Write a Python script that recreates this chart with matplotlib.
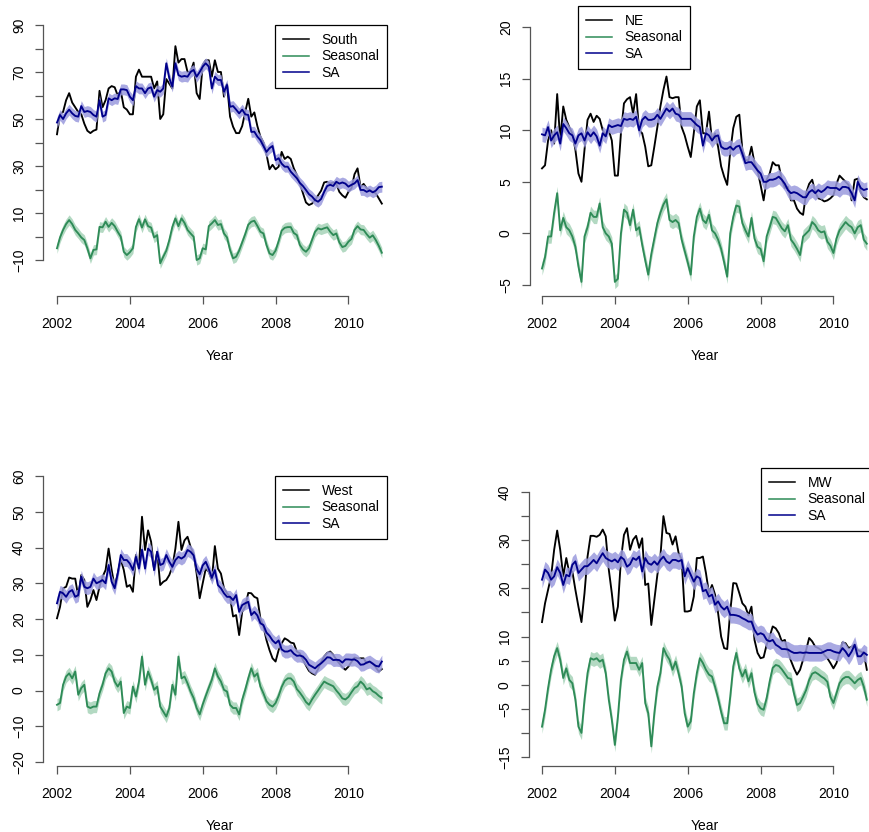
import numpy as np
import matplotlib
matplotlib.use("Agg")
import matplotlib.pyplot as plt

plt.rcParams['font.family'] = ['Liberation Sans', 'DejaVu Sans']

# ---------------- data (monthly, Jan 2002 - Dec 2010) ----------------
start_year = 2002

south_raw = [43.5, 52, 53, 58, 61, 57, 55, 53, 52, 48, 45, 44,
             45, 45.5, 62, 55, 58, 63, 64, 63.5, 60, 62, 55, 54,
             52, 52, 68, 71, 68, 68, 68, 68, 63, 66, 50, 52,
             67, 65, 63, 81, 74, 75.5, 75.5, 70, 70, 74, 61, 58.5,
             73, 75, 75, 68, 75, 70, 70, 59.5, 65, 51, 46.7, 44,
             44, 47, 53, 58.6, 51, 52.8, 47, 42.5, 40, 35, 28.6, 30.5,
             28.6, 29.7, 36, 33, 34, 33, 29, 26.2, 22.5, 18.5, 14.5, 13.4,
             14, 15.5, 17.5, 19.5, 23, 23.3, 22.5, 23, 22.5, 19, 17.5, 16.5,
             19, 20.5, 26.5, 29, 21, 22.4, 20.5, 19.8, 19, 18.4, 16.2, 14]
south_sa = [48.5, 51.7, 50, 52.4, 54, 52.4, 51.3, 51, 55.5, 53, 53.4, 53,
            51.7, 51, 58, 51, 51.7, 58.8, 58, 58.8, 58.5, 62.6, 62.6, 62.3,
            59.5, 58, 64, 63, 63, 61, 63, 63.5, 59.5, 62.3, 61.6, 63,
            73.7, 67.3, 63.8, 73.7, 68.7, 68, 68.3, 68, 70, 70.9, 68, 70,
            72.3, 73.7, 72.3, 63, 68, 66.6, 66.6, 61.6, 64.5, 55.2, 55.5, 54,
            52.4, 54, 52, 51.7, 44.5, 44.6, 42.5, 41, 38.5, 36, 37.6, 38.5,
            32.5, 33.3, 31, 29.7, 29.7, 27.6, 26.2, 24.8, 22.8, 21.5, 19.8, 18,
            17, 15.5, 14.8, 16, 19, 21.5, 22, 21.5, 23.3, 22.5, 23, 22.5,
            21.2, 22, 22.6, 24, 19.8, 19.8, 19, 19.6, 18.8, 19.5, 21, 21.2]
south_seas = [-5, -0.4, 2.8, 5.3, 7, 5.3, 2.8, 1.3, -0.4, -1.5, -5, -9.3,
              -5.7, -5.5, 4.1, 3.9, 6.3, 4.1, 5.8, 4.4, 2, -0.1, -6.5, -7.9,
              -6.7, -5, 4.1, 7.4, 3.8, 7.3, 4.4, 3.8, -0.4, 0.6, -11.4, -8.6,
              -6, -1.5, 4.1, 7.7, 4.4, 7.7, 5.8, 2.8, 1.3, -0.1, -10, -9.3,
              -5, -5.5, 4.4, 5.6, 7, 4.9, 5.3, 1.3, -0.4, -5.7, -9.3, -8.6,
              -6, -2.5, 1, 5, 6.3, 6.7, 4.5, 2, 1.3, -3.6, -7.2, -7.9,
              -6, -2, 2.5, 3.7, 4, 4, 1.5, 0.6, -3.6, -5.5, -6.5, -5,
              -1.5, 2, 3.5, 3, 3.5, 3.9, 2, 0.6, 1.3, -2.5, -4.5, -4,
              -2.2, -1, 2.8, 4.4, 3, 2.8, 1, -0.5, 0.5, -1.5, -4, -6.9]

ne_raw = [6.3, 6.6, 9, 10, 8.7, 13.5, 9, 12.3, 11, 10.3, 9.7, 8.1,
          5.8, 5, 8.1, 11, 11.6, 10.8, 11.4, 11.1, 10, 9.5, 10, 9,
          5.6, 5.6, 9.7, 12.6, 13, 13.2, 11.6, 13.5, 10, 9.7, 8.4, 6.5,
          6.6, 8.4, 10.3, 12.3, 13.9, 15.2, 13.2, 13.1, 13.2, 13.2, 10.3, 9.5,
          8.4, 7.4, 9.7, 12.3, 12.9, 9.7, 9.7, 11.8, 9, 9.7, 8.4, 6.5,
          5.5, 4.7, 7.9, 10.2, 11.3, 11.5, 8.1, 7.1, 7.1, 8.4, 6.8, 6.1,
          4.7, 3.2, 5.2, 5.8, 6.9, 6.6, 6.6, 5.2, 4.4, 4.5, 3.2, 3.2,
          2.4, 2, 1.8, 3.9, 4.8, 5.2, 4, 3.4, 3.3, 3.1, 3.2, 3.4,
          3.7, 4.8, 5.6, 5.3, 5, 4.7, 3.2, 5.2, 5.3, 4, 3.5, 3.3]
ne_sa = [9.6, 9.5, 10.3, 9, 9.5, 9.8, 8.7, 10.6, 10.2, 9.7, 9.5, 8.7,
         9.5, 9.7, 9, 9.8, 9.4, 9.8, 9.4, 8.5, 9.7, 9.4, 10.5, 10.3,
         10.4, 10.5, 10.4, 11.1, 11, 11.1, 11, 11.3, 10, 11, 11.3, 11,
         11, 11.1, 11.5, 11.1, 11.6, 12.1, 11.8, 12.1, 11.6, 11.5, 11.1, 11.1,
         11.1, 11.1, 10.8, 10.5, 10.3, 8.5, 9.7, 9.5, 9, 9.4, 9.5, 8.4,
         8.2, 8.2, 8.4, 8.1, 8.4, 8.5, 7.7, 6.8, 6.9, 6.9, 6.5, 6.1,
         5.8, 5, 5, 5.2, 5.2, 5.3, 5.5, 5.2, 4.8, 4.2, 3.9, 4,
         3.9, 3.7, 3.5, 3.5, 4, 4.2, 3.9, 4.2, 4, 4.2, 4.5, 4.4,
         4.4, 4.4, 4.2, 4.5, 4.5, 4.4, 3.9, 3.2, 5, 4.4, 4.2, 4.3]
ne_seas = [-3.4, -2.3, -0.3, -0.3, 2, 3.9, 0.3, 1.5, 0.6, 0.3, -0.3, -1.3,
           -3.2, -4.7, -0.3, 0.6, 2, 1.6, 1.6, 2.9, 0.6, 0, -0.3, -1,
           -4.7, -4.4, 0, 2.3, 2, 0.8, 2.3, 0.3, 0.6, -1.1, -2.6, -4,
           -2, -0.5, 1, 2, 2.8, 3.3, 1.3, 1.1, 1.3, 1, -0.6, -1.7,
           -2.8, -4, -0.3, 1.6, 2.4, 1.3, 1, 1.8, 0.3, 0, -0.6, -1.5,
           -2.8, -4.2, 0, 1.6, 2.7, 2.6, 1, 0.3, -0.3, 1.5, -0.5, -1.3,
           -1.5, -2.7, -0.3, 0.6, 1.6, 1.5, 1, 0.5, 0.2, 0.8, -0.6, -1,
           -1.5, -2.1, -0.3, 0, 0.3, 1.1, 0.8, 0.3, 0.1, 0.2, -0.8, -1.2,
           -1.9, -0.5, 0.3, 0.7, 1.1, 0.8, 0.6, 0, 0.6, 0.8, -0.6, -1]

west_raw = [20.2, 23.4, 28.6, 29, 31.6, 31.3, 31.3, 26.2, 32.3, 30.9, 23.4, 25.3,
            28.1, 25.3, 29, 31.8, 33.7, 39.7, 33.7, 29, 32.7, 36.7, 33.7, 29,
            29.5, 27.6, 37.9, 34.6, 48.6, 39.3, 44.8, 41.6, 33.7, 38.8, 29.5, 30.4,
            30.9, 32.3, 34.6, 39.7, 47.2, 39.3, 42, 43, 40.2, 38.3, 32.7, 25.8,
            30, 34.1, 33.2, 30.9, 40.4, 34.1, 32.7, 28.6, 27.2, 26.2, 20.7, 21.1,
            15.5, 22, 23.4, 27.3, 27.2, 26.2, 25.8, 20.2, 17.9, 14.1, 11.3, 9,
            8.1, 11.3, 13.2, 14.6, 14.1, 13.4, 13.2, 10.9, 10.4, 8.6, 7, 5.5,
            4.8, 4.4, 6, 8, 9.5, 10.5, 10.9, 10, 8.6, 7.6, 6.5, 5.8,
            6.7, 8, 9.2, 9, 9, 9, 7.6, 8.1, 7.6, 6.5, 5.3, 6]
west_sa = [24.4, 27.6, 27.2, 26.2, 27.6, 28.1, 26.2, 26.7, 31.8, 29, 28.6, 29,
           31.3, 30, 30.4, 30.9, 30, 35.1, 30.4, 28.6, 32.7, 37.9, 36.5, 36.5,
           35.5, 33.7, 37.4, 34.1, 39.4, 34.1, 39.7, 38.8, 33.7, 38.8, 35.1, 35.5,
           37.9, 36, 34.6, 36.5, 37.4, 36.9, 37.5, 39.3, 38.8, 37.8, 34, 32.5,
           35, 36, 34, 31.5, 33.7, 29.5, 28.6, 27.2, 26.2, 26.2, 25.3, 26.7,
           22, 23.9, 24.4, 24.8, 21.1, 22, 21, 18.8, 18.3, 16.2, 15.3, 14,
           13.2, 14, 11.5, 10.9, 10.9, 11.3, 10.3, 9.7, 9.8, 9.5, 8.6, 7.2,
           6.7, 6.2, 7, 7.6, 8.4, 9.3, 9.2, 8.5, 8.6, 8.5, 7.8, 8.7,
           8.7, 8.6, 8.7, 8.2, 7.2, 7.3, 7.8, 8.1, 7.5, 6.9, 6.7, 8.1]
west_seas = [-4, -3.5, 1.6, 3.9, 4.8, 3.4, 5.3, -1.2, 0.7, 1.6, -4.5, -4.9,
             -4.5, -4.5, -0.8, 1.6, 4.8, 6.2, 5.3, 2.5, 1.1, 2.5, -6.3, -4.5,
             -4.9, 1.1, -1.7, 2.5, 9.5, 1.6, 5.3, 3, 0.2, 1.1, -4.5, -5.9,
             -7.3, -4.9, 1.6, -1.2, 9.5, 3.4, 3.9, 2, -0.3, -2.1, -4.9, -6.7,
             -3.9, -1.5, 0.8, 3, 6.2, 3.9, 2.5, 0.2, -0.3, -4, -4.9, -4.9,
             -6.7, -2.6, 0.2, 3.4, 6.2, 3.9, 4.8, 1.1, -0.8, -3, -4, -4.5,
             -3.5, -1.5, 1, 2.7, 3.4, 3.4, 2.5, 0.4, -0.6, -1.8, -3.2, -4,
             -2.5, -1.2, 0, 1.3, 2.5, 2, 1.6, 1.2, 0, -1, -2.2, -2.5,
             -1.8, -0.5, 0.7, 1.2, 2.5, 1.7, 0.3, 0.7, -0.2, -0.7, -1.5, -2.1]

mw_raw = [13, 16.9, 19.7, 22.5, 28, 32, 28, 22.5, 26.3, 23.2, 23.5, 19.7,
          16.2, 13, 19, 26.6, 30.9, 30.9, 30.7, 31.1, 32.2, 30.8, 23.9, 19,
          13.3, 16.2, 26, 31.1, 32.5, 28, 30.1, 30.9, 28.4, 30.4, 20.7, 21,
          12.4, 17.6, 22.8, 26.6, 35, 31.5, 31.3, 29.1, 30.8, 27.3, 26, 15.2,
          15.2, 15.4, 18.3, 26.3, 26.3, 26.6, 23.2, 19, 20.7, 18.7, 14.9, 10,
          7.6, 7.4, 15.2, 21.1, 21, 19, 16.9, 16.2, 14.4, 16.2, 9.3, 6.6,
          5.5, 5.7, 8.3, 10, 12.1, 11.7, 10.7, 9, 9.3, 6.9, 5, 3.4,
          2.1, 3.1, 5.2, 7.2, 9.7, 9, 7.9, 7.6, 7.2, 6.2, 5.5, 4.5,
          3.4, 4.5, 6.6, 8.8, 8.6, 7.6, 7.9, 8.3, 7.2, 6.9, 6.6, 3.1]
mw_sa = [21.8, 23.9, 23.2, 21.8, 22.5, 24.4, 23.2, 20.7, 22.8, 22.5, 24.9, 25.6,
         23.2, 23.9, 24.6, 24.6, 25.2, 25.9, 25.2, 26.3, 27.3, 26.3, 25.9, 25.6,
         26, 25.4, 26.5, 26, 24.5, 25, 26.3, 25.9, 26.6, 23.5, 26.3, 25.2,
         24.9, 25.6, 24.9, 25.9, 26.6, 25.6, 25.2, 25.9, 25.9, 25.6, 25.9, 22.5,
         24.2, 22.8, 21.4, 22.5, 22.1, 19.4, 19.7, 18.3, 18.7, 16.6, 17.3, 16.2,
         15.6, 16.2, 14.5, 14.5, 14.4, 14.2, 13.8, 13.5, 13.1, 13.1, 11.4, 10.4,
         10.7, 10.4, 9.3, 9, 9.3, 8.3, 7.9, 7.4, 7.4, 7.3, 6.9, 6.6,
         6.6, 6.7, 6.6, 6.7, 6.6, 6.6, 6.6, 6.6, 6.6, 6.9, 7.2, 7.2,
         6.9, 6.7, 6.6, 7.6, 6.9, 5.9, 6.9, 8.3, 5.9, 5.9, 6.7, 6.2]
mw_seas = [-8.7, -5.2, -0.7, 3.1, 5.9, 7.6, 5.2, 1.4, 3.4, 1, 0.3, -3.1,
           -8.7, -10, -3.1, 2.4, 5.5, 5.2, 5.5, 4.8, 5.2, 2.4, -3.1, -7.3,
           -12.5, -6.6, 1, 5.2, 6.9, 4.5, 4.5, 4.5, 3.1, 4.5, -3.8, -5.9,
           -12.8, -5.9, -0.4, 2.4, 7.6, 6.2, 5.2, 3.1, 4.8, 2.4, -0.4, -5.9,
           -8.7, -7.6, -1.8, 2.4, 5.5, 4.5, 3.1, 2.1, 1.7, -0.4, -2.8, -5.6,
           -8, -8, -2.5, 3.8, 6.6, 3.4, 1.7, 3.1, 0.7, 2.4, -1.6, -4,
           -4.9, -5.2, -2.8, 0.7, 3.5, 4.1, 3.9, 3.2, 2.3, 1.4, 1.2, -1.8,
           -4.2, -3.8, -2.5, -1.1, 1, 2.3, 2.6, 2.2, 1.7, 1.3, 0.6, -2.5,
           -3.8, -1.8, 0.3, 1.2, 1.6, 1.6, 1, 0.3, 1, 1.4, -0.4, -3.1]

# half-widths of the shaded uncertainty bands
band_south_sa, band_south_seas = 2.3, 2.2
band_ne_sa, band_ne_seas = 0.7, 0.65
band_west_sa, band_west_seas = 1.8, 1.7
band_mw_sa, band_mw_seas = 1.7, 1.4

region_names = ["South", "NE", "West", "MW"]
year_ticks = [2002, 2004, 2006, 2008, 2010]

# ---------------- styling ----------------
W, H = 870, 832
COL_RAW = "black"
COL_SEAS = "#2E8B57"
COL_SA = "#00008B"
COL_SEAS_BAND = "#A6D3B8"
COL_SA_BAND = "#9A9ADD"
AXCOL = "#555555"
FS = 10

fig = plt.figure(figsize=(W / 100, H / 100), dpi=100)


def make_axes(box, x2002, ppy, yref):
    left, right, top, bottom = box
    ax = fig.add_axes([left / W, 1 - bottom / H, (right - left) / W, (bottom - top) / H])
    ax.set_xlim(start_year + (left - x2002) / ppy, start_year + (right - x2002) / ppy)
    (v1, p1), (v2, p2) = yref
    s = (p2 - p1) / (v1 - v2)
    ax.set_ylim(v1 - (bottom - p1) / s, v1 - (top - p1) / s)
    return ax


panels = [
    dict(name=region_names[0], raw=south_raw, sa=south_sa, seas=south_seas,
         bsa=band_south_sa, bse=band_south_seas,
         box=(43, 396, 20, 296), x2002=57, yref=((90, 25), (-10, 260)),
         yticks=list(range(-10, 91, 10)), ylab={90, 70, 50, 30, 10, -10},
         leg=(275, 25)),
    dict(name=region_names[1], raw=ne_raw, sa=ne_sa, seas=ne_seas,
         bsa=band_ne_sa, bse=band_ne_seas,
         box=(530, 880, 20, 296), x2002=542, yref=((20, 27), (-5, 285)),
         yticks=list(range(-5, 21, 5)), ylab={20, 15, 10, 5, 0, -5},
         leg=(578, 6)),
    dict(name=region_names[2], raw=west_raw, sa=west_sa, seas=west_seas,
         bsa=band_west_sa, bse=band_west_seas,
         box=(43, 396, 468, 766), x2002=57, yref=((60, 476), (-20, 762)),
         yticks=list(range(-20, 61, 10)), ylab=set(range(-20, 61, 10)),
         leg=(275, 476)),
    dict(name=region_names[3], raw=mw_raw, sa=mw_sa, seas=mw_seas,
         bsa=band_mw_sa, bse=band_mw_seas,
         box=(529, 880, 468, 766), x2002=542, yref=((40, 492), (-15, 757)),
         yticks=list(range(-15, 41, 5)), ylab={40, 30, 20, 10, 5, 0, -5, -15},
         leg=(761, 468)),
]

ppy = 36.43
for p in panels:
    ax = make_axes(p["box"], p["x2002"], ppy, p["yref"])
    n = len(p["raw"])
    t = start_year + np.arange(n) / 12.0
    raw = np.array(p["raw"])
    sa = np.array(p["sa"])
    se = np.array(p["seas"])
    l_raw, = ax.plot(t, raw, color=COL_RAW, lw=1.35, zorder=2)
    ax.fill_between(t, se - p["bse"], se + p["bse"], color=COL_SEAS_BAND, lw=0, zorder=3, alpha=0.85)
    ax.fill_between(t, sa - p["bsa"], sa + p["bsa"], color=COL_SA_BAND, lw=0, zorder=3, alpha=0.85)
    l_se, = ax.plot(t, se, color=COL_SEAS, lw=1.35, zorder=4)
    l_sa, = ax.plot(t, sa, color=COL_SA, lw=1.35, zorder=4)

    for side in ("top", "right"):
        ax.spines[side].set_visible(False)
    ax.spines["left"].set_bounds(min(p["yticks"]), max(p["yticks"]))
    ax.spines["bottom"].set_bounds(year_ticks[0], year_ticks[-1])
    for side in ("left", "bottom"):
        ax.spines[side].set_color(AXCOL)
        ax.spines[side].set_linewidth(0.9)
    ax.set_xticks(year_ticks)
    ax.set_xticklabels([str(y) for y in year_ticks])
    ax.set_yticks(p["yticks"])
    ax.set_yticklabels([("\u2212" + str(-v) if v < 0 else str(v)) if v in p["ylab"] else ""
                        for v in p["yticks"]])
    ax.tick_params(axis="both", direction="out", length=5.8, width=0.9, color=AXCOL,
                   labelsize=FS)
    ax.tick_params(axis="x", pad=9.5)
    ax.tick_params(axis="y", pad=11.5)
    for lab in ax.get_yticklabels():
        lab.set_rotation(90)
        lab.set_va("center")
        lab.set_ha("center")
    ax.set_xlabel("Year", fontsize=FS, labelpad=13)
    ax.patch.set_alpha(0)

    lx, ly = p["leg"]
    leg = ax.legend([l_raw, l_se, l_sa], [p["name"], "Seasonal", "SA"],
                    loc="upper left", bbox_to_anchor=(lx / W, 1 - ly / H),
                    bbox_transform=fig.transFigure, borderaxespad=0,
                    fontsize=FS, frameon=True, fancybox=False, framealpha=1,
                    edgecolor="black", handlelength=1.9, handletextpad=0.9,
                    labelspacing=0.2, borderpad=0.55)
    leg.get_frame().set_linewidth(0.9)
    for ln in leg.get_lines():
        ln.set_linewidth(1.1)
    leg.set_zorder(10)

fig.savefig("out.png", dpi=100)
